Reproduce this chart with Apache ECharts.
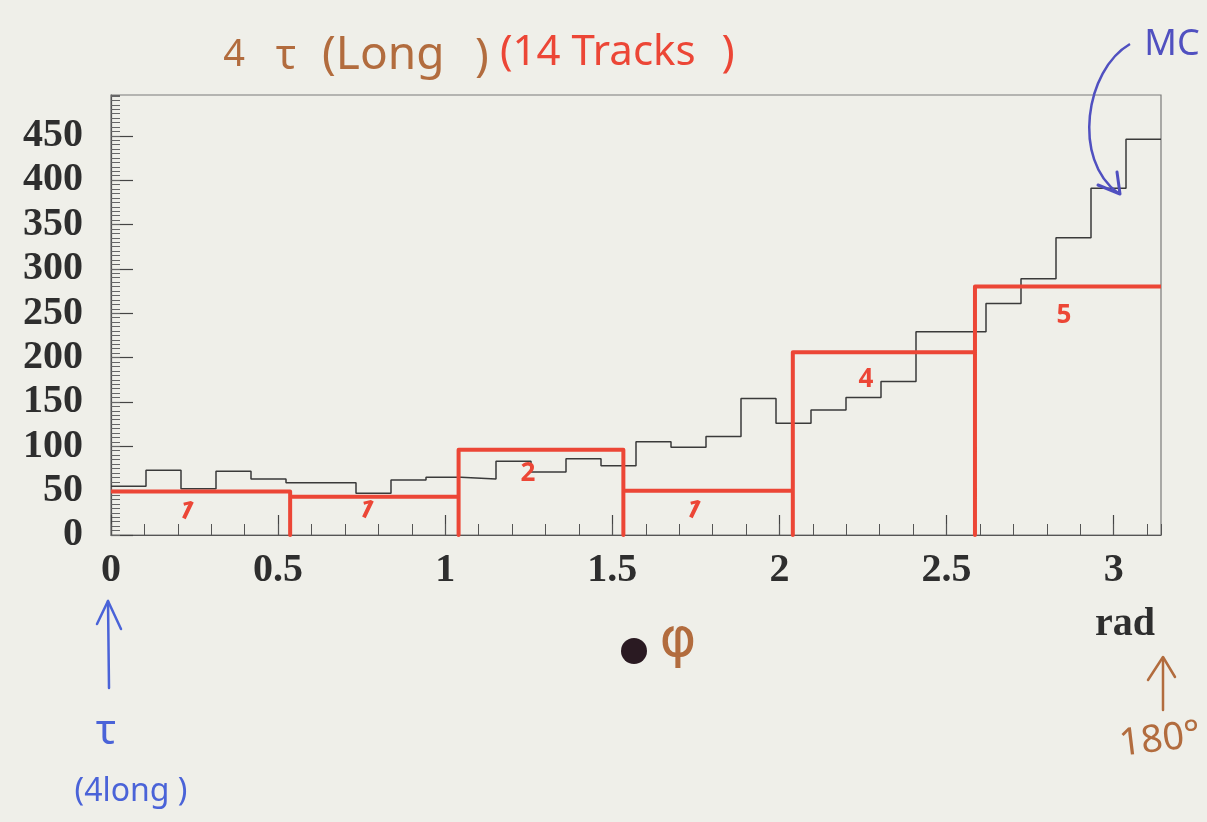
<!DOCTYPE html>
<html>
<head>
<meta charset="utf-8">
<script src="https://cdn.jsdelivr.net/npm/echarts@6/dist/echarts.min.js"></script>
<style>
  html, body { margin: 0; padding: 0; background: #efefe9; }
  #chart { width: 1207px; height: 822px; }
</style>
</head>
<body>
<div id="chart"></div>
<script>
// ---- data ----
// MC histogram: 30 equal bins from 0 to pi (rad)
const mcValues = [55, 73, 52, 72, 63, 59, 59, 47, 62, 65,
                  63, 83, 71, 86, 78, 105, 99, 111, 154, 126,
                  141, 155, 173, 229, 229, 261, 289, 335, 391, 446];
// hand-drawn data histogram (14 tracks) - variable bin edges (rad)
const redEdges = [0, 0.536, 1.04, 1.533, 2.04, 2.585, 3.1416];
const redHeights = [49, 43, 96, 50, 206, 280];
const redCounts = ['1', '1', '2', '1', '4', '5'];
const xTickLabels = ['0', '0.5', '1', '1.5', '2', '2.5', '3'];
const yTickLabels = ['0', '50', '100', '150', '200', '250', '300', '350', '400', '450'];

const XMAX = Math.PI;
const YMAX = 496;

// build step data
const binW = XMAX / mcValues.length;
const mcData = mcValues.map((v, i) => [i * binW, v]);
mcData.push([XMAX, mcValues[mcValues.length - 1]]);

const redData = [[redEdges[0], redHeights[0]]];
for (let i = 0; i < redHeights.length; i++) {
  redData.push([redEdges[i + 1], redHeights[i]]);
  if (i < redHeights.length - 1) {
    redData.push([redEdges[i + 1], 0]);
    redData.push([redEdges[i + 1], redHeights[i + 1]]);
  }
}

const chart = echarts.init(document.getElementById('chart'));
const serif = 'Liberation Serif';
const hand = 'Noto Sans';
const BROWN = '#b26c3e', RED = '#ec4636', BLUE = '#4a63d8', MCBLUE = '#5050c0';

function near(v, list) {
  for (const s of list) if (Math.abs(parseFloat(s) - v) < 1e-6) return s;
  return '';
}

const option = {
  backgroundColor: '#efefe9',
  animation: false,
  grid: { left: 111, right: 46, top: 95, bottom: 287, show: true,
          borderColor: '#7a7a7a', borderWidth: 1.2, backgroundColor: 'transparent' },
  xAxis: [
    { type: 'value', min: 0, max: XMAX, interval: 0.5, position: 'bottom',
      axisLine: { show: true, onZero: false, lineStyle: { color: '#555', width: 1.2 } },
      axisTick: { show: true, inside: true, length: 20, lineStyle: { color: '#444', width: 1.2 } },
      axisLabel: { show: true, margin: 16, color: '#2e2e2e', fontFamily: serif, fontWeight: 'bold',
                   fontSize: 40, hideOverlap: false, showMaxLabel: false,
                   formatter: v => near(v, xTickLabels) },
      splitLine: { show: false } },
    { type: 'value', min: 0, max: XMAX, interval: 0.1, position: 'bottom', offset: 0,
      axisLine: { show: false },
      axisTick: { show: true, inside: true, length: 11, lineStyle: { color: '#555', width: 1 } },
      axisLabel: { show: false }, splitLine: { show: false } }
  ],
  yAxis: [
    { type: 'value', min: 0, max: YMAX, interval: 50, position: 'left',
      axisLine: { show: true, onZero: false, lineStyle: { color: '#555', width: 1.2 } },
      axisTick: { show: true, inside: true, length: 22, lineStyle: { color: '#444', width: 1.2 } },
      axisLabel: { show: true, margin: 28, color: '#2e2e2e', fontFamily: serif, fontWeight: 'bold',
                   fontSize: 40, hideOverlap: false, showMaxLabel: false,
                   formatter: v => near(v, yTickLabels) },
      splitLine: { show: false } },
    { type: 'value', min: 0, max: YMAX, interval: 5, position: 'left', offset: 0,
      axisLine: { show: false },
      axisTick: { show: true, inside: true, length: 9, lineStyle: { color: '#666', width: 1 } },
      axisLabel: { show: false }, splitLine: { show: false } }
  ],
  series: [
    { name: 'MC', type: 'line', step: 'end', data: mcData, symbol: 'none',
      xAxisIndex: 0, yAxisIndex: 0,
      lineStyle: { color: '#3a3a3a', width: 1.5 }, z: 3 },
    { name: 'Data', type: 'line', data: redData, symbol: 'none',
      xAxisIndex: 0, yAxisIndex: 0,
      lineStyle: { color: RED, width: 4, join: 'round' }, z: 4 }
  ],
  graphic: []
};

chart.setOption(option);

// ---- hand-written annotations ----
const g = [];
function txt(x, y, text, fill, size, opts) {
  opts = opts || {};
  g.push({ type: 'text', x: x, y: y, rotation: opts.rot || 0, z: 10,
    style: { text: text, fill: fill, fontSize: size, fontFamily: opts.family || hand,
             fontWeight: opts.weight || 'normal', fontStyle: opts.style || 'normal',
             align: opts.align || 'center', verticalAlign: 'middle' } });
}
function line(points, color, w) {
  g.push({ type: 'polyline', z: 10, shape: { points: points },
           style: { stroke: color, lineWidth: w, fill: null, lineCap: 'round', lineJoin: 'round' } });
}

// title (hand-written, spread out like the original)
txt(234, 55, '4', BROWN, 38);
txt(286, 57, 'τ', BROWN, 42);
txt(322, 56, '(Long', BROWN, 46, { align: 'left' });
txt(482, 58, ')', BROWN, 46);
txt(500, 53, '(14 Tracks', RED, 42, { align: 'left' });
txt(728, 53, ')', RED, 44);
// MC label + curved arrow
txt(1172, 45, 'MC', MCBLUE, 36);
g.push({ type: 'bezierCurve', z: 10,
  shape: { x1: 1130, y1: 44, cpx1: 1085, cpy1: 70, cpx2: 1072, cpy2: 160, x2: 1118, y2: 193 },
  style: { stroke: MCBLUE, lineWidth: 2.5, fill: null } });
line([[1098, 185], [1120, 194], [1117, 172]], MCBLUE, 3);

// red counts in each data bin
const countPos = [[186, 511], [366, 510], [528, 474], [693, 510], [866, 380], [1064, 316]];
redCounts.forEach((c, i) => {
  const slanted = c === '1';
  txt(countPos[i][0], countPos[i][1], c, RED, 26, { weight: 'bold', rot: slanted ? -0.45 : 0 });
});

// axis annotations
txt(1125, 625, 'rad', '#2e2e2e', 40, { family: serif, weight: 'bold' });
g.push({ type: 'circle', z: 10, shape: { cx: 634, cy: 651, r: 13 }, style: { fill: '#2a1a22' } });
txt(678, 641, 'φ', BROWN, 56, { family: 'DejaVu Sans' });

// left blue arrow & tau
line([[109, 688], [108, 601]], BLUE, 2.5);
line([[97, 624], [108, 601], [121, 629]], BLUE, 2.5);
txt(106, 732, 'τ', BLUE, 42);
txt(131, 792, '(4long )', BLUE, 32);

// right brown arrow & 180°
line([[1163, 710], [1163, 658]], BROWN, 2.5);
line([[1148, 680], [1163, 657], [1175, 677]], BROWN, 2.5);
txt(1160, 740, '180°', BROWN, 38, { rot: 0.12 });

chart.setOption({ graphic: g });
</script>
</body>
</html>
